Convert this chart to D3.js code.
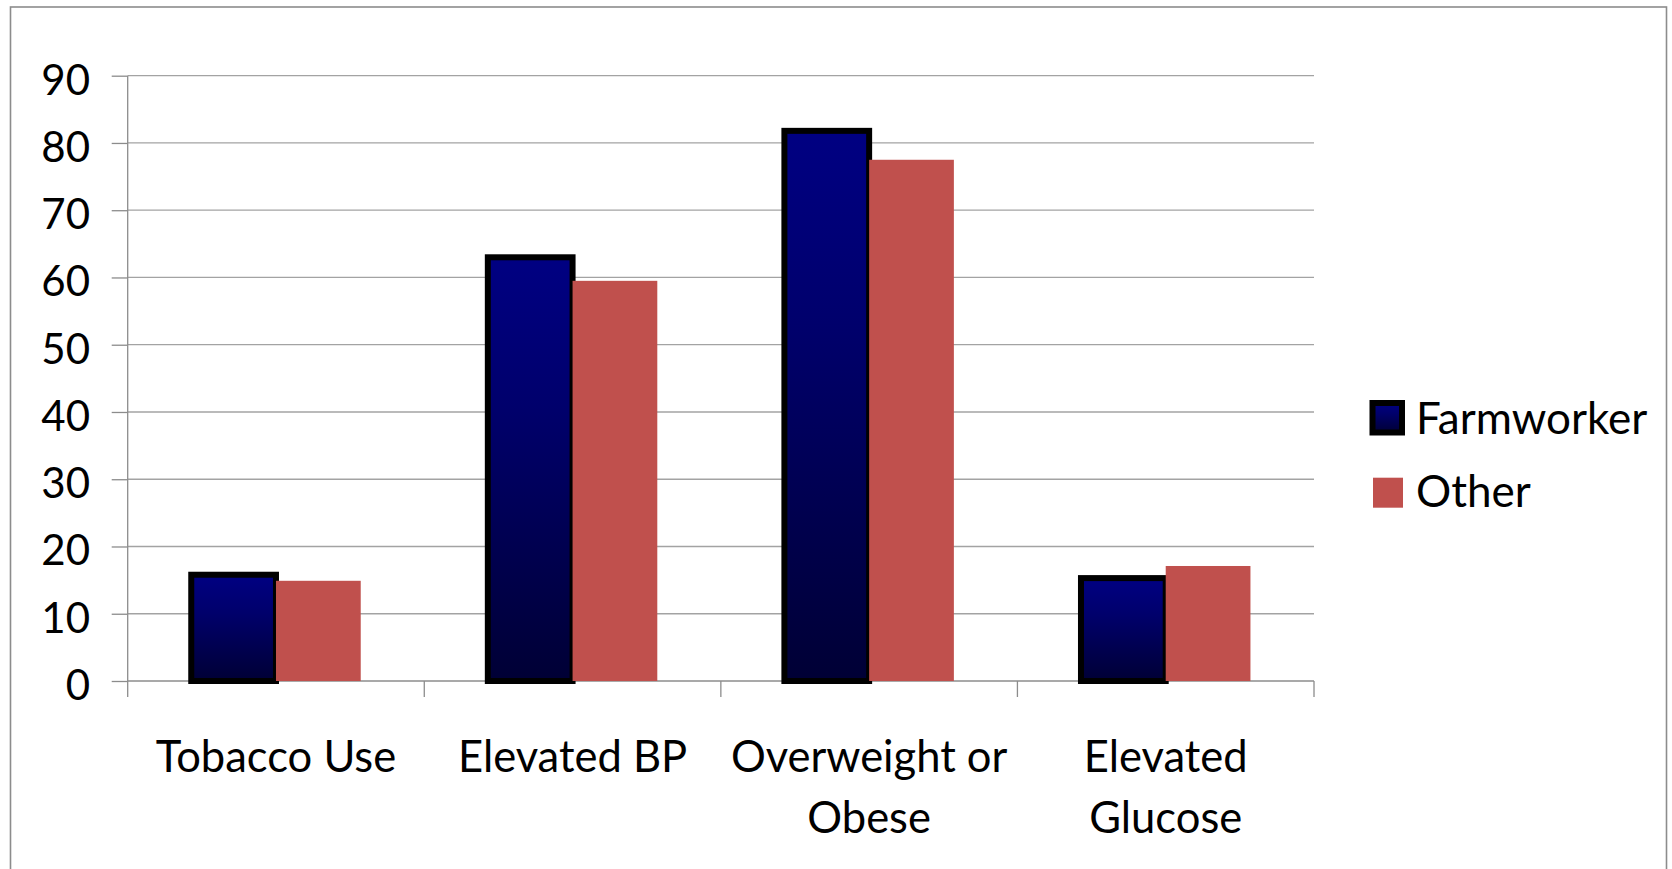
<!DOCTYPE html>
<html>
<head>
<meta charset="utf-8">
<script src="https://cdn.jsdelivr.net/npm/d3@7/dist/d3.min.js"></script>
<style>
  html, body { margin: 0; padding: 0; background: #fff; }
  svg { display: block; font-family: Lato, "Open Sans", sans-serif; }
</style>
</head>
<body>
<svg id="chart" width="1672" height="869"></svg>
<script>
// Health risk indicators: farmworkers vs. others (percent)
const categories = ["Tobacco Use", "Elevated BP", "Overweight or Obese", "Elevated Glucose"];
const categoryLines = [["Tobacco Use"], ["Elevated BP"], ["Overweight or", "Obese"], ["Elevated", "Glucose"]];
const seriesNames = ["Farmworker", "Other"];
const farmworkerValues = [15.8, 63.0, 81.8, 15.3];
const otherValues = [14.9, 59.5, 77.5, 17.1];
const yTicks = [0, 10, 20, 30, 40, 50, 60, 70, 80, 90];

const svg = d3.select("#chart");
const W = 1672, H = 869;

const plot = { left: 127.7, right: 1314, top: 75.7, bottom: 681 };

// Outer frame
svg.append("rect")
  .attr("x", 10.5).attr("y", 7)
  .attr("width", 1666.5 - 10.5).attr("height", H + 20)
  .attr("fill", "#fff")
  .attr("stroke", "#8c8c8c").attr("stroke-width", 1.6);

const defs = svg.append("defs");
const grad = defs.append("linearGradient")
  .attr("id", "navyFade").attr("x1", 0).attr("y1", 0).attr("x2", 0).attr("y2", 1);
grad.append("stop").attr("offset", "0%").attr("stop-color", "#000082");
grad.append("stop").attr("offset", "35%").attr("stop-color", "#00006c");
grad.append("stop").attr("offset", "100%").attr("stop-color", "#000035");

const x = d3.scaleBand().domain(categories).range([plot.left, plot.right]).paddingInner(0).paddingOuter(0);
const xs = d3.scaleBand().domain(seriesNames).range([0, x.bandwidth()]).paddingInner(0).paddingOuter(0.75);
const y = d3.scaleLinear().domain([0, 90]).range([plot.bottom, plot.top]);

const gridColor = "#a3a3a3";
const axisColor = "#8c8c8c";

// Horizontal gridlines
svg.append("g").selectAll("line")
  .data(yTicks.filter(t => t > 0))
  .join("line")
  .attr("x1", plot.left).attr("x2", plot.right)
  .attr("y1", d => y(d)).attr("y2", d => y(d))
  .attr("stroke", gridColor).attr("stroke-width", 1.3);

// Y axis (ticks + labels)
const yAxis = d3.axisLeft(y).tickValues(yTicks).tickSizeInner(16).tickSizeOuter(0).tickPadding(21.7);
const gy = svg.append("g").attr("transform", `translate(${plot.left},0)`).call(yAxis);
gy.select(".domain").remove();
gy.selectAll(".tick line").attr("stroke", axisColor).attr("stroke-width", 1.3);
gy.selectAll(".tick text")
  .attr("font-family", "Lato, 'Open Sans', sans-serif")
  .attr("font-size", 42).attr("fill", "#000").attr("dy", "0.436em");

// Vertical axis line (runs down past zero to the category tick length)
svg.append("line")
  .attr("x1", plot.left).attr("x2", plot.left)
  .attr("y1", y(90)).attr("y2", y(0) + 16)
  .attr("stroke", axisColor).attr("stroke-width", 1.3);

// Category axis baseline and boundary ticks
svg.append("line")
  .attr("x1", plot.left).attr("x2", plot.right)
  .attr("y1", y(0)).attr("y2", y(0))
  .attr("stroke", axisColor).attr("stroke-width", 1.3);
const boundaries = categories.map(c => x(c) + x.bandwidth());
svg.append("g").selectAll("line")
  .data(boundaries)
  .join("line")
  .attr("x1", d => d).attr("x2", d => d)
  .attr("y1", y(0)).attr("y2", y(0) + 16)
  .attr("stroke", axisColor).attr("stroke-width", 1.3);

// Bars
const rows = categories.map((c, i) => ({ cat: c, Farmworker: farmworkerValues[i], Other: otherValues[i] }));

svg.append("g").selectAll("rect")
  .data(rows)
  .join("rect")
  .attr("x", d => x(d.cat) + xs("Farmworker"))
  .attr("y", d => y(d.Farmworker))
  .attr("width", xs.bandwidth())
  .attr("height", d => y(0) - y(d.Farmworker))
  .attr("fill", "url(#navyFade)")
  .attr("stroke", "#000").attr("stroke-width", 6);

svg.append("g").selectAll("rect")
  .data(rows)
  .join("rect")
  .attr("x", d => x(d.cat) + xs("Other"))
  .attr("y", d => y(d.Other))
  .attr("width", xs.bandwidth())
  .attr("height", d => y(0) - y(d.Other))
  .attr("fill", "#C0504D");

// Category labels
const labels = svg.append("g")
  .attr("font-family", "Lato, 'Open Sans', sans-serif")
  .attr("font-size", 43.5).attr("fill", "#000").attr("text-anchor", "middle");
categories.forEach((c, i) => {
  const t = labels.append("text").attr("x", x(c) + x.bandwidth() / 2).attr("y", 771.7);
  categoryLines[i].forEach((line, j) => {
    t.append("tspan").attr("x", x(c) + x.bandwidth() / 2).attr("dy", j === 0 ? 0 : 61).text(line);
  });
});

// Legend
const legend = svg.append("g").attr("font-family", "Lato, 'Open Sans', sans-serif").attr("font-size", 44);
legend.append("rect")
  .attr("x", 1372.5).attr("y", 403).attr("width", 29.5).attr("height", 29.5)
  .attr("fill", "url(#navyFade)").attr("stroke", "#000").attr("stroke-width", 6);
legend.append("text").attr("x", 1416).attr("y", 434).text(seriesNames[0]);
legend.append("rect")
  .attr("x", 1373).attr("y", 477.7).attr("width", 30).attr("height", 30)
  .attr("fill", "#C0504D");
legend.append("text").attr("x", 1416).attr("y", 506.7).text(seriesNames[1]);
</script>
</body>
</html>
